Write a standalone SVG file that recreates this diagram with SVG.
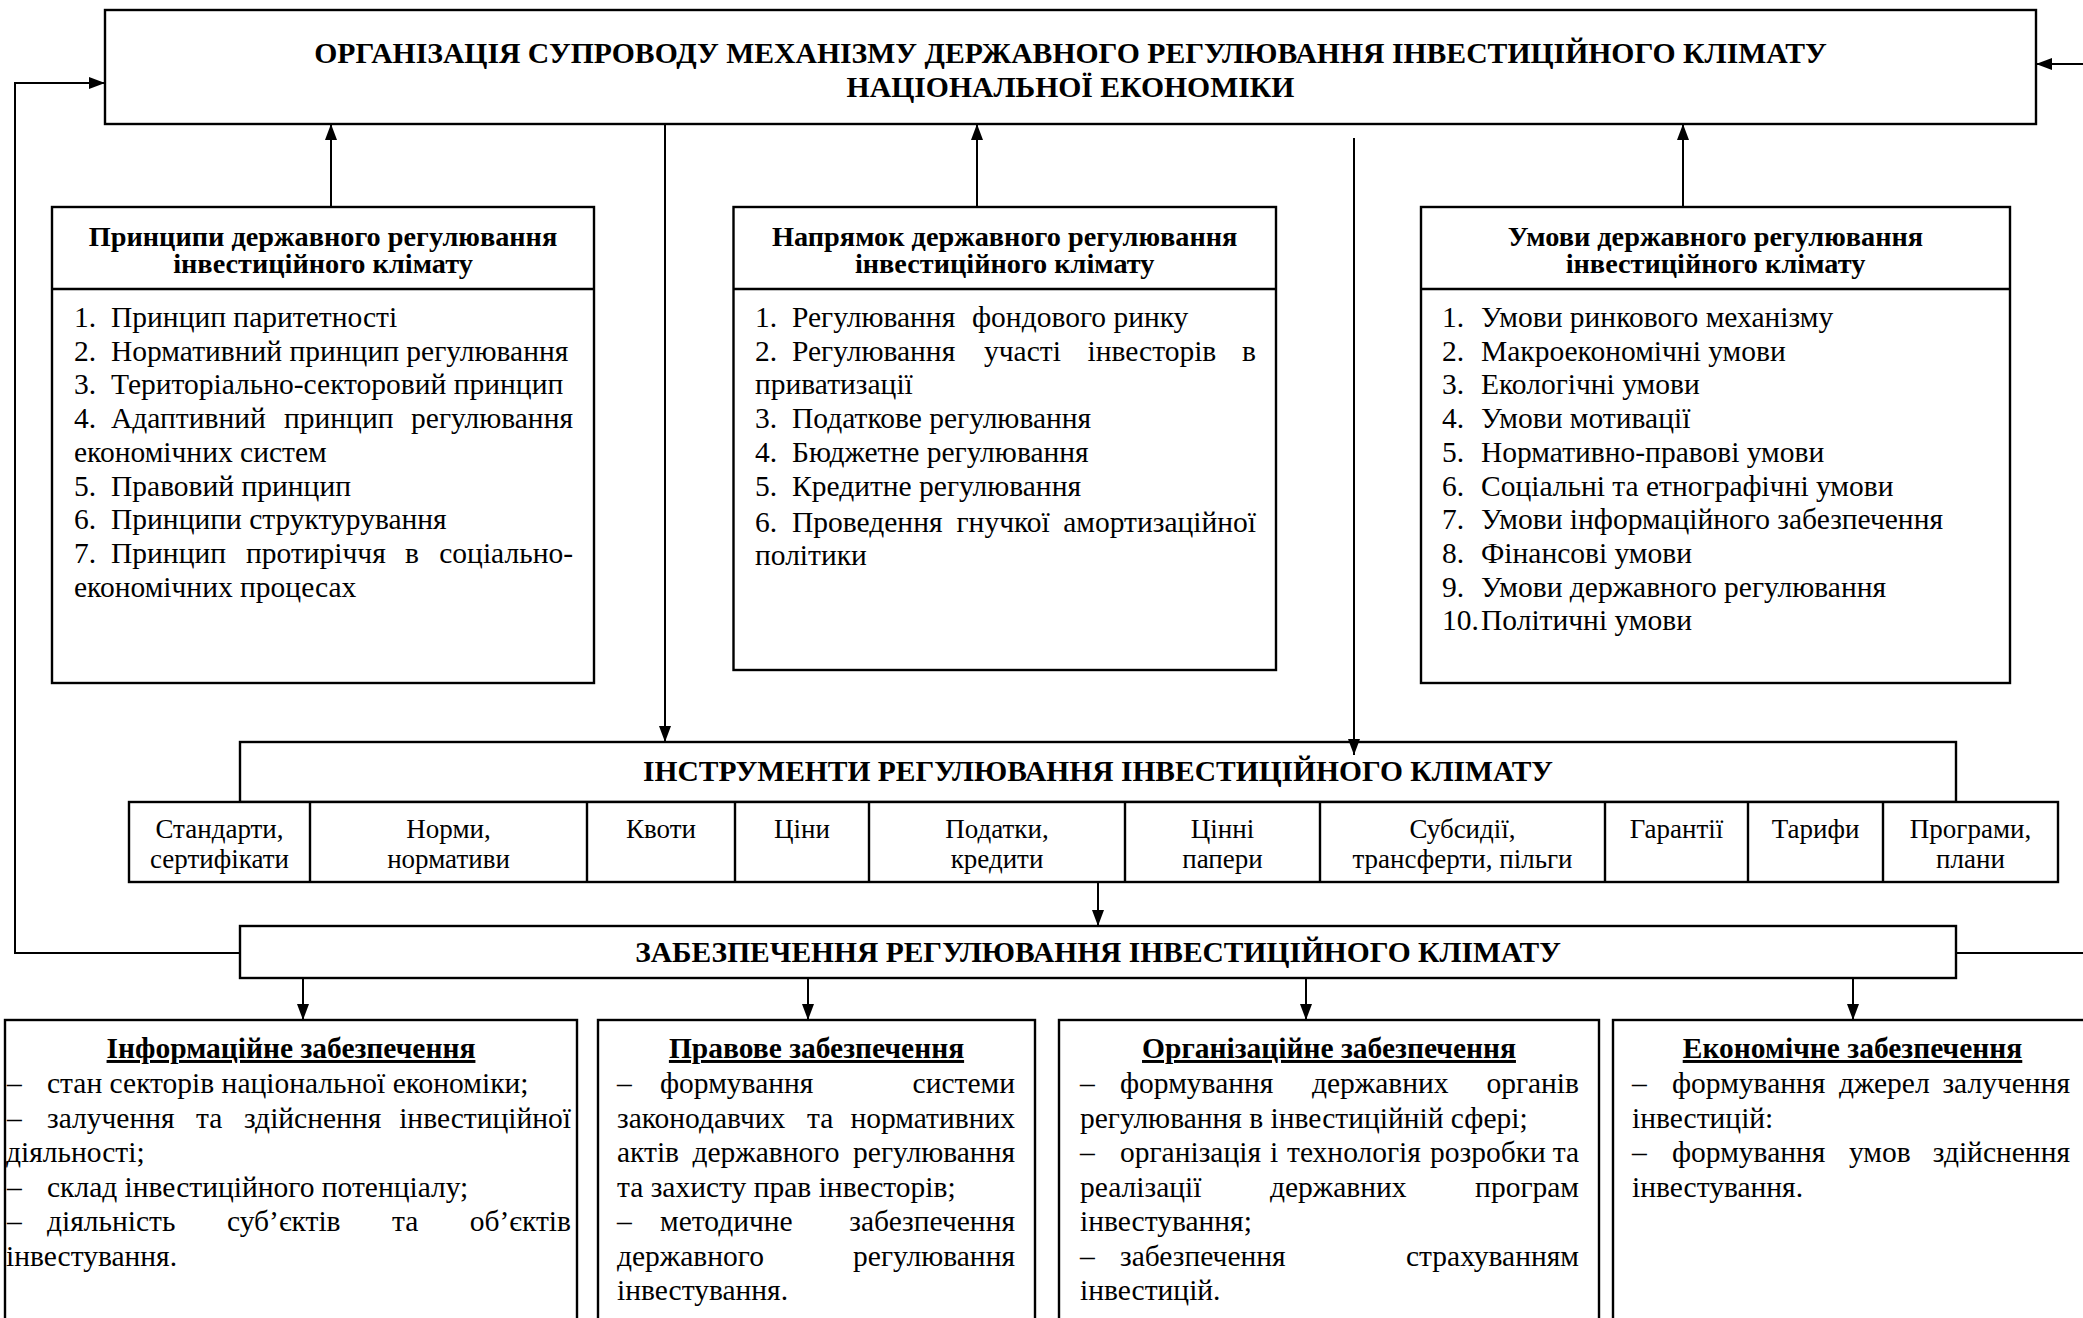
<svg xmlns="http://www.w3.org/2000/svg" width="2083" height="1318" viewBox="0 0 2083 1318">
<defs>
<marker id="ah" markerUnits="userSpaceOnUse" markerWidth="16" markerHeight="12" refX="16" refY="6" orient="auto">
<path d="M0,0 L16,6 L0,12 Z" fill="#000"/>
</marker>
<style>
.box{fill:#fff;stroke:#000;stroke-width:2.4}
.ln{fill:none;stroke:#000;stroke-width:2.4}
.cn{fill:none;stroke:#000;stroke-width:2}
.ar{marker-end:url(#ah)}
.t{font-family:"Liberation Serif","Times New Roman",serif;font-size:29.5px;fill:#000}
.b{font-weight:bold}
.T{font-size:29.7px}
.h{font-size:28.3px}
.m{text-anchor:middle}
.e{text-anchor:end}
.c{font-size:27px}
.u{text-decoration:underline}
</style>
</defs>
<rect width="2083" height="1318" fill="#fff"/>

<g id="top">
<rect class="box" x="105" y="10" width="1931" height="114"/>
<text class="t b T m" x="1070.5" y="63">ОРГАНІЗАЦІЯ СУПРОВОДУ МЕХАНІЗМУ ДЕРЖАВНОГО РЕГУЛЮВАННЯ ІНВЕСТИЦІЙНОГО КЛІМАТУ</text>
<text class="t b T m" x="1070.5" y="97">НАЦІОНАЛЬНОЇ ЕКОНОМІКИ</text>
</g>

<g id="principles">
<rect class="box" x="52" y="207" width="542" height="476"/>
<path class="ln" d="M52,289 H594"/>
<text class="t b h m" x="323" y="246">Принципи державного регулювання</text>
<text class="t b h m" x="323" y="273">інвестиційного клімату</text>
<text class="t" x="74" y="327">1.</text><text class="t" x="111" y="327">Принцип паритетності</text>
<text class="t" x="74" y="360.7">2.</text><text class="t" x="111" y="360.7">Нормативний принцип регулювання</text>
<text class="t" x="74" y="394.4">3.</text><text class="t" x="111" y="394.4">Територіально-секторовий принцип</text>
<text class="t" x="74" y="428.1">4.</text><text class="t" x="111" y="428.1">Адаптивний</text><text class="t" x="284" y="428.1">принцип</text><text class="t e" x="573" y="428.1">регулювання</text>
<text class="t" x="74" y="461.8">економічних систем</text>
<text class="t" x="74" y="495.5">5.</text><text class="t" x="111" y="495.5">Правовий принцип</text>
<text class="t" x="74" y="529.2">6.</text><text class="t" x="111" y="529.2">Принципи структурування</text>
<text class="t" x="74" y="562.9">7.</text><text class="t" x="111" y="562.9">Принцип</text><text class="t" x="246" y="562.9">протиріччя</text><text class="t" x="405" y="562.9">в</text><text class="t e" x="573" y="562.9">соціально-</text>
<text class="t" x="74" y="597">економічних процесах</text>
</g>

<g id="direction">
<rect class="box" x="733.5" y="207" width="542.5" height="463"/>
<path class="ln" d="M733.5,289 H1276"/>
<text class="t b h m" x="1004.7" y="246">Напрямок державного регулювання</text>
<text class="t b h m" x="1004.7" y="273">інвестиційного клімату</text>
<text class="t" x="755" y="327">1.</text><text class="t" x="792" y="327">Регулювання</text><text class="t" x="972" y="327">фондового ринку</text>
<text class="t" x="755" y="360.7">2.</text><text class="t" x="792" y="360.7">Регулювання</text><text class="t" x="984" y="360.7">участі</text><text class="t" x="1087.5" y="360.7">інвесторів</text><text class="t e" x="1256" y="360.7">в</text>
<text class="t" x="755" y="394.4">приватизації</text>
<text class="t" x="755" y="428.1">3.</text><text class="t" x="792" y="428.1">Податкове регулювання</text>
<text class="t" x="755" y="461.8">4.</text><text class="t" x="792" y="461.8">Бюджетне регулювання</text>
<text class="t" x="755" y="495.5">5.</text><text class="t" x="792" y="495.5">Кредитне регулювання</text>
<text class="t" x="755" y="531.5">6.</text><text class="t" x="792" y="531.5">Проведення</text><text class="t" x="956.5" y="531.5">гнучкої</text><text class="t e" x="1256" y="531.5">амортизаційної</text>
<text class="t" x="755" y="565.2">політики</text>
</g>

<g id="conditions">
<rect class="box" x="1421" y="207" width="589" height="476"/>
<path class="ln" d="M1421,289 H2010"/>
<text class="t b h m" x="1715.5" y="246">Умови державного регулювання</text>
<text class="t b h m" x="1715.5" y="273">інвестиційного клімату</text>
<text class="t" x="1442" y="327">1.</text><text class="t" x="1481" y="327">Умови ринкового механізму</text>
<text class="t" x="1442" y="360.7">2.</text><text class="t" x="1481" y="360.7">Макроекономічні умови</text>
<text class="t" x="1442" y="394.4">3.</text><text class="t" x="1481" y="394.4">Екологічні умови</text>
<text class="t" x="1442" y="428.1">4.</text><text class="t" x="1481" y="428.1">Умови мотивації</text>
<text class="t" x="1442" y="461.8">5.</text><text class="t" x="1481" y="461.8">Нормативно-правові умови</text>
<text class="t" x="1442" y="495.5">6.</text><text class="t" x="1481" y="495.5">Соціальні та етнографічні умови</text>
<text class="t" x="1442" y="529.2">7.</text><text class="t" x="1481" y="529.2">Умови інформаційного забезпечення</text>
<text class="t" x="1442" y="562.9">8.</text><text class="t" x="1481" y="562.9">Фінансові умови</text>
<text class="t" x="1442" y="596.6">9.</text><text class="t" x="1481" y="596.6">Умови державного регулювання</text>
<text class="t" x="1442" y="630.3">10.</text><text class="t" x="1481" y="630.3">Політичні умови</text>
</g>

<g id="instruments">
<rect class="box" x="240" y="742" width="1716" height="60"/>
<text class="t b m" x="1098" y="781">ІНСТРУМЕНТИ РЕГУЛЮВАННЯ ІНВЕСТИЦІЙНОГО КЛІМАТУ</text>
<rect class="box" x="129" y="802" width="1929" height="80"/>
<path class="ln" d="M310,802 V882 M587,802 V882 M735,802 V882 M869,802 V882 M1125,802 V882 M1320,802 V882 M1605,802 V882 M1748,802 V882 M1883,802 V882"/>
<text class="t c m" x="219.5" y="838">Стандарти,</text><text class="t c m" x="219.5" y="868">сертифікати</text>
<text class="t c m" x="448.5" y="838">Норми,</text><text class="t c m" x="448.5" y="868">нормативи</text>
<text class="t c m" x="661" y="838">Квоти</text>
<text class="t c m" x="802" y="838">Ціни</text>
<text class="t c m" x="997" y="838">Податки,</text><text class="t c m" x="997" y="868">кредити</text>
<text class="t c m" x="1222.5" y="838">Цінні</text><text class="t c m" x="1222.5" y="868">папери</text>
<text class="t c m" x="1462.5" y="838">Субсидії,</text><text class="t c m" x="1462.5" y="868">трансферти, пільги</text>
<text class="t c m" x="1676.5" y="838">Гарантії</text>
<text class="t c m" x="1815.5" y="838">Тарифи</text>
<text class="t c m" x="1970.5" y="838">Програми,</text><text class="t c m" x="1970.5" y="868">плани</text>
</g>

<g id="support">
<rect class="box" x="240" y="926" width="1716" height="52"/>
<text class="t b m" x="1098" y="962">ЗАБЕЗПЕЧЕННЯ РЕГУЛЮВАННЯ ІНВЕСТИЦІЙНОГО КЛІМАТУ</text>
</g>

<g id="info">
<rect class="box" x="5" y="1020" width="572" height="330"/>
<text class="t b m u" x="291" y="1058">Інформаційне забезпечення</text>
<text class="t" x="7" y="1093">–</text><text class="t" x="47" y="1093">стан секторів національної економіки;</text>
<text class="t" x="7" y="1127.5">–</text><text class="t" x="47" y="1127.5">залучення</text><text class="t" x="196" y="1127.5">та</text><text class="t" x="244" y="1127.5">здійснення</text><text class="t e" x="571" y="1127.5">інвестиційної</text>
<text class="t" x="6" y="1162">діяльності;</text>
<text class="t" x="7" y="1196.5">–</text><text class="t" x="47" y="1196.5">склад інвестиційного потенціалу;</text>
<text class="t" x="7" y="1231">–</text><text class="t" x="47" y="1231">діяльність</text><text class="t" x="227" y="1231">суб’єктів</text><text class="t" x="392" y="1231">та</text><text class="t e" x="571" y="1231">об’єктів</text>
<text class="t" x="6" y="1265.5">інвестування.</text>
</g>

<g id="legal">
<rect class="box" x="598" y="1020" width="437" height="330"/>
<text class="t b m u" x="816.5" y="1058">Правове забезпечення</text>
<text class="t" x="617" y="1093">–</text><text class="t" x="660" y="1093">формування</text><text class="t e" x="1015" y="1093">системи</text>
<text class="t" x="617" y="1127.5">законодавчих</text><text class="t" x="807" y="1127.5">та</text><text class="t e" x="1015" y="1127.5">нормативних</text>
<text class="t" x="617" y="1162">актів</text><text class="t" x="692.5" y="1162">державного</text><text class="t e" x="1015" y="1162">регулювання</text>
<text class="t" x="617" y="1196.5">та захисту прав інвесторів;</text>
<text class="t" x="617" y="1231">–</text><text class="t" x="660" y="1231">методичне</text><text class="t e" x="1015" y="1231">забезпечення</text>
<text class="t" x="617" y="1265.5">державного</text><text class="t e" x="1015" y="1265.5">регулювання</text>
<text class="t" x="617" y="1300">інвестування.</text>
</g>

<g id="organizational">
<rect class="box" x="1059" y="1020" width="540" height="330"/>
<text class="t b m u" x="1329" y="1058">Організаційне забезпечення</text>
<text class="t" x="1080" y="1093">–</text><text class="t" x="1120" y="1093">формування</text><text class="t" x="1312" y="1093">державних</text><text class="t e" x="1579" y="1093">органів</text>
<text class="t" x="1080" y="1127.5">регулювання в інвестиційній сфері;</text>
<text class="t" x="1080" y="1162">–</text><text class="t" x="1120" y="1162">організація</text><text class="t" x="1270" y="1162">і</text><text class="t" x="1287" y="1162">технологія</text><text class="t" x="1430" y="1162">розробки</text><text class="t e" x="1579" y="1162">та</text>
<text class="t" x="1080" y="1196.5">реалізації</text><text class="t" x="1270" y="1196.5">державних</text><text class="t e" x="1579" y="1196.5">програм</text>
<text class="t" x="1080" y="1231">інвестування;</text>
<text class="t" x="1080" y="1265.5">–</text><text class="t" x="1120" y="1265.5">забезпечення</text><text class="t e" x="1579" y="1265.5">страхуванням</text>
<text class="t" x="1080" y="1300">інвестицій.</text>
</g>

<g id="economic">
<rect class="box" x="1613" y="1020" width="480" height="330"/>
<text class="t b m u" x="1852.5" y="1058">Економічне забезпечення</text>
<text class="t" x="1632" y="1093">–</text><text class="t" x="1672" y="1093">формування</text><text class="t" x="1839" y="1093">джерел</text><text class="t e" x="2070" y="1093">залучення</text>
<text class="t" x="1632" y="1127.5">інвестицій:</text>
<text class="t" x="1632" y="1162">–</text><text class="t" x="1672" y="1162">формування</text><text class="t" x="1849" y="1162">умов</text><text class="t e" x="2070" y="1162">здійснення</text>
<text class="t" x="1632" y="1196.5">інвестування.</text>
</g>

<g id="connectors">
<path class="cn ar" d="M331,207 V124"/>
<path class="cn ar" d="M977,207 V124"/>
<path class="cn ar" d="M1683,207 V124"/>
<path class="cn ar" d="M665,124 V742"/>
<path class="cn ar" d="M1354,138 V755"/>
<path class="cn ar" d="M1098,882 V926"/>
<path class="cn ar" d="M303,978 V1020"/>
<path class="cn ar" d="M808,978 V1020"/>
<path class="cn ar" d="M1306,978 V1020"/>
<path class="cn ar" d="M1853,978 V1020"/>
<path class="cn ar" d="M240,953 H15 V83 H105"/>
<path class="cn ar" d="M1956,953 H2100 V64 H2036"/>
</g>
</svg>
